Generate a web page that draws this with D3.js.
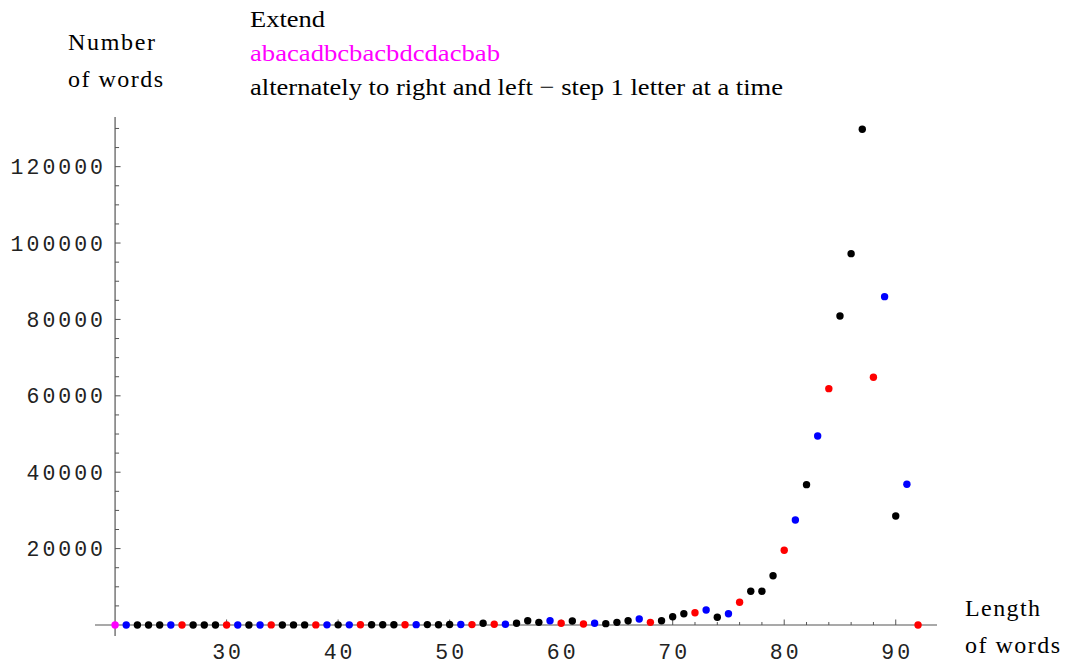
<!DOCTYPE html>
<html>
<head>
<meta charset="utf-8">
<script src="https://cdn.jsdelivr.net/npm/d3@7"></script>
<style>
  html, body { margin: 0; padding: 0; background: #fff; }
  svg { display: block; }
  .serif { font-family: "Liberation Serif", "Times New Roman", serif; }
  .mono { font-family: "Liberation Mono", "Courier New", monospace; }
</style>
</head>
<body>
<svg id="chart" width="1070" height="666"></svg>
<script>
// Word length (letters)
const lengths = [
  20, 21, 22, 23, 24, 25, 26, 27, 28, 29,
  30, 31, 32, 33, 34, 35, 36, 37, 38, 39,
  40, 41, 42, 43, 44, 45, 46, 47, 48, 49,
  50, 51, 52, 53, 54, 55, 56, 57, 58, 59,
  60, 61, 62, 63, 64, 65, 66, 67, 68, 69,
  70, 71, 72, 73, 74, 75, 76, 77, 78, 79,
  80, 81, 82, 83, 84, 85, 86, 87, 88, 89,
  90, 91, 92
];

// Number of words found at each length
const counts = [
  1, 2, 3, 2, 5, 4, 6, 8, 7, 11,
  12, 10, 15, 14, 20, 18, 25, 30, 22, 35,
  40, 38, 50, 60, 55, 70, 65, 90, 100, 85,
  120, 140, 110, 450, 200, 200, 450, 1130, 700, 1130,
  450, 1050, 260, 450, 350, 700, 1130, 1570, 700, 1100,
  2170, 2960, 3220, 3930, 2020, 2960, 5950, 8830, 8830, 12900,
  19560, 27490, 36740, 49490, 61880, 80910, 97220, 129800, 64860, 85970,
  28540, 36840, 0
];

// Point group at each length: seed word, or the kind of extension step
const groups = [
  "seed", "B", "K", "K", "K", "B", "R", "K", "K", "K",
  "R", "B", "K", "B", "R", "K", "K", "K", "R", "B",
  "K", "B", "R", "K", "K", "K", "R", "B", "K", "K",
  "K", "B", "R", "K", "R", "B", "K", "K", "K", "B",
  "R", "K", "R", "B", "K", "K", "K", "B", "R", "K",
  "K", "K", "R", "B", "K", "B", "R", "K", "K", "K",
  "R", "B", "K", "B", "R", "K", "K", "K", "R", "B",
  "K", "B", "R"
];

const xTicks = [30, 40, 50, 60, 70, 80, 90];
const yTicks = [20000, 40000, 60000, 80000, 100000, 120000];

const titleLines = [
  "Extend",
  "abacadbcbacbdcdacbab",
  "alternately to right and left \u2212 step 1 letter at a time"
];

const data = lengths.map((len, i) => ({ len, count: counts[i], group: groups[i] }));

const svg = d3.select("#chart");

const x = d3.scaleLinear().domain([18.2, 93.7]).range([95, 937]);
const y = d3.scaleLinear().domain([-2880, 133000]).range([636, 117]);

const color = d3.scaleOrdinal()
  .domain(["seed", "B", "K", "R"])
  .range(["#ff00ff", "#0000ff", "#000000", "#ff0000"]);

const axisColor = "#555";
const x0 = x(20);   // vertical axis position
const y0 = y(0);    // horizontal axis position

// Horizontal axis line with ticks pointing up
svg.append("line")
  .attr("x1", x.range()[0]).attr("x2", x.range()[1])
  .attr("y1", y0).attr("y2", y0)
  .attr("stroke", axisColor).attr("stroke-width", 1.2);

const xMinor = d3.range(22, 93, 2).filter(v => v % 10 !== 0);
svg.append("g").selectAll("line.xminor").data(xMinor).join("line")
  .attr("x1", d => x(d)).attr("x2", d => x(d))
  .attr("y1", y0).attr("y2", y0 - 3)
  .attr("stroke", axisColor).attr("stroke-width", 1);
svg.append("g").selectAll("line.xmajor").data(xTicks).join("line")
  .attr("x1", d => x(d)).attr("x2", d => x(d))
  .attr("y1", y0).attr("y2", y0 - 5.5)
  .attr("stroke", axisColor).attr("stroke-width", 1);

svg.append("g").selectAll("text").data(xTicks).join("text")
  .attr("class", "mono")
  .attr("x", d => x(d) + 1.5)
  .attr("y", 659)
  .attr("text-anchor", "middle")
  .attr("font-size", 21.5)
  .attr("letter-spacing", 3)
  .attr("fill", "#222")
  .text(d => d);

// Vertical axis line with ticks pointing right
svg.append("line")
  .attr("x1", x0).attr("x2", x0)
  .attr("y1", y.range()[0]).attr("y2", y.range()[1])
  .attr("stroke", axisColor).attr("stroke-width", 1.2);

const yMinor = d3.range(5000, 130001, 5000).filter(v => v % 20000 !== 0);
svg.append("g").selectAll("line").data(yMinor).join("line")
  .attr("x1", x0).attr("x2", x0 + 4)
  .attr("y1", d => y(d)).attr("y2", d => y(d))
  .attr("stroke", axisColor).attr("stroke-width", 1);
svg.append("g").selectAll("line").data(yTicks).join("line")
  .attr("x1", x0).attr("x2", x0 + 5.5)
  .attr("y1", d => y(d)).attr("y2", d => y(d))
  .attr("stroke", axisColor).attr("stroke-width", 1);

svg.append("g").selectAll("text").data(yTicks).join("text")
  .attr("class", "mono")
  .attr("x", 106)
  .attr("y", d => y(d) + 7.5)
  .attr("text-anchor", "end")
  .attr("font-size", 21.5)
  .attr("letter-spacing", 3)
  .attr("fill", "#222")
  .text(d => d);

// Points
svg.append("g").selectAll("circle").data(data).join("circle")
  .attr("cx", d => x(d.len))
  .attr("cy", d => y(d.count))
  .attr("r", 3.7)
  .attr("fill", d => color(d.group));

// Axis titles
const yTitle = svg.append("text").attr("class", "serif").attr("font-size", 24).attr("fill", "#000");
yTitle.append("tspan").attr("x", 68).attr("y", 50).attr("textLength", 87).text("Number");
yTitle.append("tspan").attr("x", 68).attr("y", 87).attr("textLength", 95).text("of words");

const xTitle = svg.append("text").attr("class", "serif").attr("font-size", 24).attr("fill", "#000");
xTitle.append("tspan").attr("x", 965).attr("y", 616).attr("textLength", 75).text("Length");
xTitle.append("tspan").attr("x", 965).attr("y", 653).attr("textLength", 95).text("of words");

// Heading lines
const headingY = [27, 61, 95];
const headingW = [75, 250, 533];
const headingFill = ["#000", "#ff00ff", "#000"];
svg.append("g").selectAll("text").data(titleLines).join("text")
  .attr("class", "serif")
  .attr("x", 250)
  .attr("y", (d, i) => headingY[i])
  .attr("font-size", 24)
  .attr("textLength", (d, i) => headingW[i])
  .attr("lengthAdjust", "spacingAndGlyphs")
  .attr("fill", (d, i) => headingFill[i])
  .text(d => d);
</script>
</body>
</html>
